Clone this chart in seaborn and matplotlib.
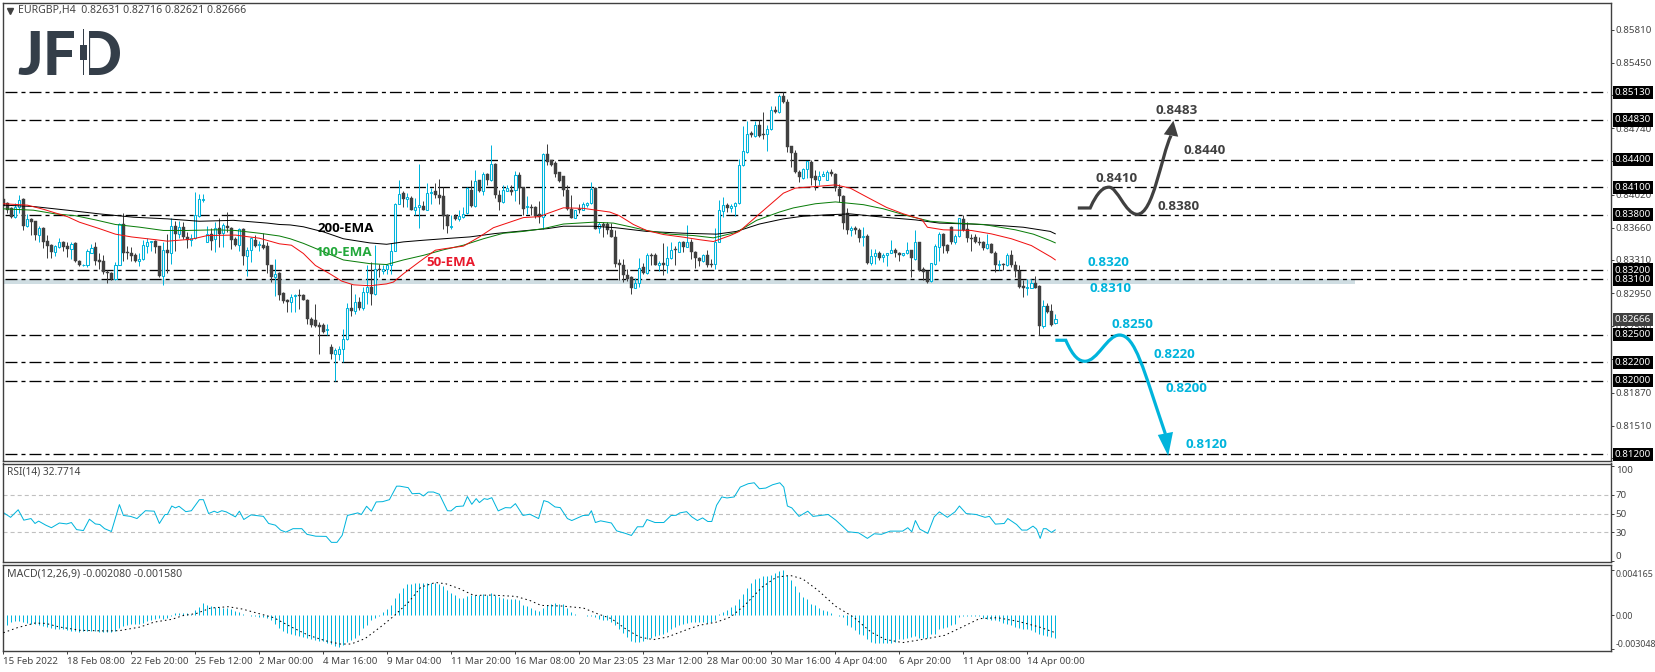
import numpy as np
import matplotlib
matplotlib.use('Agg')
import matplotlib.pyplot as plt
from matplotlib.path import Path
from matplotlib.patches import PathPatch, Rectangle
import seaborn as sns

# candles, in 1/10000 of a price (8397 = 0.8397)
opens = [
    8397,8393,8387,8378,8388,8397,8368,8375,8373,8358, 8366,8352,8347,8340,8345,8351,8346,8343,8349,8330,
    8325,8325,8339,8345,8331,8330,8318,8317,8310,8326, 8370,8340,8339,8336,8330,8332,8346,8351,8352,8346,
    8314,8342,8339,8368,8359,8367,8356,8353,8355,8379, 8396,8351,8359,8354,8366,8360,8368,8366,8354,8347,
    8365,8335,8342,8353,8347,8347,8346,8326,8312,8317, 8295,8287,8285,8292,8293,8293,8288,8267,8266,8260,
    8260,8255,8236,8229,8229,8234,8245,8279,8276,8285, 8279,8296,8302,8294,8321,8319,8321,8326,8341,8392,
    8404,8397,8398,8385,8388,8390,8385,8404,8406,8402, 8400,8380,8367,8379,8375,8378,8382,8407,8390,8418,
    8406,8424,8418,8435,8402,8394,8406,8407,8407,8423, 8410,8388,8389,8389,8381,8378,8446,8439,8436,8426,
    8422,8407,8386,8376,8386,8385,8391,8393,8409,8366, 8370,8370,8364,8356,8328,8326,8315,8313,8300,8306,
    8323,8317,8336,8336,8325,8328,8325,8333,8343,8340, 8350,8345,8350,8340,8333,8330,8336,8327,8327,8351,
    8384,8391,8387,8390,8393,8434,8448,8469,8466,8478, 8468,8468,8473,8494,8492,8509,8502,8455,8447,8427,
    8420,8430,8437,8422,8418,8422,8418,8426,8424,8408, 8400,8382,8364,8366,8364,8356,8357,8328,8335,8339,
    8334,8336,8339,8342,8339,8336,8339,8342,8332,8351, 8321,8319,8308,8327,8345,8359,8347,8367,8350,8357,
    8375,8365,8355,8356,8351,8350,8344,8348,8339,8326, 8327,8325,8336,8326,8319,8303,8301,8301,8306,8303,
    8259,8281,8276,8263]
highs = [
    8398,8394,8388,8393,8402,8398,8381,8377,8373,8368, 8367,8358,8348,8347,8355,8352,8350,8350,8350,8331,
    8327,8343,8348,8351,8338,8336,8320,8318,8329,8371, 8382,8346,8345,8338,8338,8353,8355,8352,8353,8346,
    8351,8359,8377,8373,8373,8372,8361,8359,8405,8403, 8403,8368,8366,8372,8376,8371,8383,8367,8356,8366,
    8366,8345,8356,8358,8352,8360,8350,8326,8332,8318, 8296,8289,8294,8294,8299,8294,8289,8269,8283,8264,
    8263,8261,8240,8235,8238,8256,8284,8305,8294,8291, 8302,8326,8329,8347,8327,8325,8327,8349,8393,8418,
    8406,8404,8400,8398,8435,8395,8414,8409,8415,8419, 8410,8381,8380,8381,8385,8388,8410,8418,8429,8418,
    8427,8425,8456,8436,8407,8412,8412,8412,8428,8427, 8410,8400,8392,8390,8395,8447,8457,8440,8438,8427,
    8422,8412,8401,8385,8392,8394,8394,8416,8410,8372, 8372,8372,8371,8364,8332,8332,8321,8314,8311,8333,
    8328,8338,8339,8338,8330,8349,8346,8350,8346,8352, 8352,8369,8354,8341,8334,8337,8342,8332,8366,8396,
    8399,8393,8392,8394,8441,8476,8482,8471,8482,8483, 8492,8477,8498,8498,8511,8513,8506,8455,8450,8429,
    8431,8438,8440,8429,8428,8428,8429,8430,8425,8413, 8402,8387,8368,8368,8366,8367,8359,8343,8343,8341,
    8339,8339,8353,8344,8340,8339,8350,8342,8364,8351, 8323,8319,8328,8348,8361,8360,8348,8368,8359,8377,
    8380,8372,8359,8359,8356,8352,8359,8349,8341,8331, 8328,8338,8342,8330,8325,8309,8310,8310,8314,8304,
    8287,8284,8283,8272]
lows = [
    8388,8382,8376,8376,8382,8364,8367,8358,8353,8351, 8344,8333,8333,8335,8344,8341,8334,8332,8329,8324,
    8324,8323,8339,8326,8321,8316,8306,8309,8309,8325, 8330,8332,8330,8329,8324,8331,8339,8341,8338,8313,
    8304,8317,8327,8341,8355,8354,8344,8346,8354,8378, 8394,8350,8342,8340,8345,8345,8361,8343,8346,8341,
    8325,8314,8329,8345,8341,8343,8317,8307,8292,8288, 8284,8275,8274,8274,8278,8287,8262,8258,8258,8229,
    8252,8249,8224,8200,8222,8220,8244,8270,8272,8277, 8277,8283,8282,8293,8313,8316,8316,8316,8341,8392,
    8389,8388,8385,8380,8366,8385,8385,8392,8398,8392, 8365,8360,8365,8374,8373,8377,8381,8389,8389,8405,
    8402,8412,8417,8398,8385,8393,8406,8401,8395,8392, 8380,8381,8380,8377,8371,8365,8434,8433,8421,8416,
    8400,8385,8376,8376,8382,8385,8389,8392,8365,8360, 8356,8359,8356,8323,8309,8307,8308,8294,8300,8302,
    8316,8316,8325,8325,8319,8315,8317,8332,8326,8340, 8340,8345,8332,8322,8324,8329,8323,8323,8321,8351,
    8378,8383,8383,8379,8392,8433,8447,8464,8464,8464, 8462,8449,8472,8491,8491,8501,8448,8432,8425,8416,
    8419,8420,8412,8407,8412,8422,8418,8422,8406,8394, 8365,8359,8357,8359,8351,8346,8327,8326,8327,8331,
    8329,8324,8338,8334,8330,8335,8337,8312,8331,8319, 8309,8306,8307,8326,8330,8338,8338,8348,8348,8356,
    8362,8351,8341,8349,8347,8342,8343,8338,8318,8320, 8320,8324,8323,8312,8301,8291,8293,8300,8300,8249,
    8257,8273,8259,8262]
closes = [
    8390,8385,8378,8389,8396,8368,8375,8372,8358,8366, 8350,8346,8340,8346,8351,8345,8343,8348,8330,8325,
    8325,8341,8344,8330,8329,8318,8317,8310,8326,8370, 8339,8338,8335,8330,8332,8347,8351,8352,8345,8314,
    8342,8339,8368,8359,8367,8356,8353,8355,8380,8397, 8397,8359,8352,8366,8359,8369,8366,8353,8347,8365,
    8335,8342,8355,8346,8348,8344,8326,8312,8316,8293, 8286,8285,8291,8293,8292,8287,8267,8260,8259,8258,
    8253,8256,8229,8233,8234,8245,8279,8276,8285,8279, 8296,8302,8294,8321,8320,8321,8326,8341,8392,8403,
    8397,8399,8385,8389,8391,8385,8404,8405,8401,8398, 8379,8368,8368,8375,8379,8381,8409,8390,8417,8406,
    8424,8418,8435,8401,8394,8407,8409,8405,8423,8409, 8386,8390,8387,8379,8378,8446,8437,8434,8424,8417,
    8407,8386,8376,8385,8385,8392,8393,8408,8365,8370, 8368,8364,8356,8327,8325,8315,8310,8300,8306,8322,
    8317,8336,8335,8325,8328,8325,8333,8342,8342,8350, 8345,8350,8340,8333,8330,8336,8326,8326,8351,8385,
    8391,8387,8390,8393,8434,8449,8468,8467,8478,8466, 8467,8473,8494,8492,8509,8502,8454,8447,8426,8421,
    8430,8438,8420,8418,8422,8424,8426,8424,8409,8400, 8371,8364,8366,8363,8355,8357,8328,8335,8339,8333,
    8336,8339,8342,8338,8336,8339,8342,8333,8351,8320, 8318,8307,8328,8346,8359,8346,8341,8350,8357,8376,
    8364,8355,8354,8350,8349,8344,8348,8338,8325,8327, 8325,8336,8326,8319,8302,8300,8302,8306,8301,8259,
    8281,8275,8260,8267]

# moving averages, read at a few bars
ema50_x = [0,6,10,13,16,19,24,28,32,38,41,47,51,58,64,69,72,75,78,81.6,84.6,87.5,91.6,95.8,97.5,100,104,108,110.6,115,119,122.5,126.6,130,134,136,140,145,148.3,151.6,154,157.5,160.8,165,170,174,177.5,181.7,184,189,195,198,203,208,211.7,216,220.8,225,229.6,231,235,242,247,252,257,262,263]
ema50_y = [8392,8390.5,8386,8382,8378,8372,8365,8359,8356,8353,8351.4,8353.5,8357.5,8358,8354.6,8348.5,8347,8338,8325,8316,8308,8304,8303,8305,8307,8316,8329,8341.6,8343.4,8346,8356,8366,8372,8377,8378,8381.4,8387.6,8387,8385,8383,8379,8369.5,8363,8358.6,8355.7,8353,8351,8357.5,8362,8381,8403.5,8409,8410.7,8412.5,8409,8399,8388,8381,8375,8366.5,8363.7,8363,8359.3,8354,8346.6,8334,8331]
ema100_x = [0,7.5,13,18,23,28,34,40,46,53,58,64,69,71.7,75,80,85,91.6,95.8,100,105,110,115,120,125,130,135,140,147.5,152.5,156.7,160.8,166.6,172.5,177.5,183.3,188.3,194,197.5,203,208,215,220,226,231.7,238,245,253,257.5,261.7,263]
ema100_y = [8386.5,8385,8381,8379,8374.5,8369.5,8366.6,8363,8363,8363.7,8363,8360,8357,8354,8349,8340,8331,8327,8326,8331,8336,8342,8347,8354,8360,8362,8365,8370,8372,8371,8367,8363,8359,8357.5,8355,8361,8374,8383,8387.5,8392,8394,8391,8386.5,8379,8373,8371,8369.5,8363.7,8359,8352,8349.5]
ema200_x = [0,7.5,16,24,32.5,41,49,57.5,66,69,71.7,75,80,85,91.6,95.8,100,105,110,116.6,123,130,136,140,147.5,153,160.8,170,178.3,183.3,189,195,200,206,211.7,220,228,234,242,249,255,261.7,263]
ema200_y = [8390.5,8389,8385,8381,8377.4,8375.6,8373,8374,8371,8369.5,8369,8367,8361.5,8354,8349.5,8348,8350.6,8352.4,8354,8356,8359.7,8362.6,8365,8367.6,8367.6,8366,8362,8360,8359,8362,8370,8375.6,8378.5,8380,8381,8377.4,8374.5,8371,8370,8368.4,8366.5,8362,8359.3]

# rsi(14)
rsi_x = [0,1.8,3.7,5.1,6.9,7.9,8.8,10.6,12,14,15.8,17,18.3,20,21.5,23,24.1,25.3,27,29,30,31.8,33.4,35.5,37.7,39,40.4,41,42.1,43,43.9,45.6,47,49,50,51.3,52.7,53.5,54.6,55.7,58,59,60.1,61.9,65,66.3,68,69.3,70.6,72.4,74.6,75.9,78.1,80.7,82,83.4,84.7,86,87.3,88.6,89.5,90.8,92,93.2,94.8,96.5,98.3,99.1,101.2,102.2,104,105,106.2,107.5,109,111,111.9,113.2,115,116,117.1,118.2,119,120.2,121,122.1,123.7,125.5,126.8,128,129.9,131.6,133.8,135.1,136.2,137.9,139.2,141,142.1,144.9,146.3,147,148,149.3,152,153.3,155.5,157,158.5,159.9,160.9,162.9,165.1,166.9,168.2,169.1,170.8,172.1,173.5,174.8,176.1,177.1,178.3,179.6,180.9,182.7,184.2,186.2,187.7,189,190.6,192.3,194.1,195.1,196,197.1,198.9,201.1,202.4,206.2,208.1,209.9,211.2,213.8,216,217.7,219.5,221.7,224.8,226.1,227.1,228,229.1,231.1,232.7,234,236,237.9,239,240.7,243.2,245.4,246.5,248,250.2,251.1,253.3,254.6,255.9,257.4,258.3,259.2,260,260.7,262,263]
rsi_y = [51,46,54,43,44.7,39.5,42,37.7,35,40,39,40.5,33,32,44,39,38.4,34,31,59.5,48,47,44.7,53,52.5,39.5,49,49,58,56,57.7,52,53,64.7,64.7,50,52.5,51,53,51.8,46.5,52.5,43.7,48.6,47,39.5,37.7,32.5,30.3,34,34,28,26,25.8,19.5,19.5,27,48,49.3,50.7,49,57.7,52.5,62.3,62.6,64.7,79,79,77.4,71,71.4,68.6,72.8,72.8,70.4,53,52.8,57.4,58,68,59.8,65.8,61.6,65.8,65,66.8,52.8,56.3,56,60.5,48,49.3,44.7,63.7,62.3,57,56.3,44.7,42.6,47.9,48.2,53,40.5,42.3,40,31.7,29,26.8,36,36,43.7,40.5,40.5,47.9,48.2,50.7,52,46.5,42.6,45.4,41.6,41.6,58.8,67.6,66.5,67.6,78,81.6,82.6,76.3,77,80.5,82.6,78,58,56,47,52.5,47,49,43,36,30.7,29.6,23.7,28.6,28,31.4,31.4,35,30.7,42.6,33.5,29,46.5,51.8,46,51.8,58,50,49,46,47,38.8,39.5,44.7,38.4,32.5,32.5,36.7,33.5,23.7,34,34,30,32.8]

# macd histogram per bar and signal line, in 1/10000
macd_hist = [
    -9.7,-9.1,-6.1,-4.8,-5.5,-6.1,-7.0,-7.6,-7.6,-8.5, -9.7,-10.6,-11.5,-12.1,-12.7,-12.7,-13.3,-13.9,-14.5,-15.2,
    -14.5,-14.2,-14.2,-14.5,-15.2,-15.2,-15.2,-15.2,-14.5,-11.5, -10,-8.5,-7.9,-7.6,-7.6,-6.7,-5.5,-4.5,-3.6,-2.7,
    -3.6,-2.7,-0.9,2.1,2.4,2.4,1.8,1.5,4.5,7.6, 10.9,9.1,8.5,7.3,7.6,6.7,6.7,6.1,3.9,3.0,
    0.9,0,-0.3,-0.9,-1.5,-1.5,-2.4,-4.5,-7.6,-11.5, -14.2,-16.1,-17.3,-17.6,-18.8,-19.7,-20.6,-21.8,-22.4,-23.3,
    -23.6,-24.8,-26.4,-27.9,-28.8,-27.3,-24.2,-22.7,-20.3,-17.6, -11.5,-8.5,-4.5,-2.4,-0.9,3.0,5.5,9.1,15.8,20.3,
    24.8,28.2,28.8,29.4,29.7,29.7,29.4,29.7,29.4,28.2, 26.4,22.7,20.3,18.2,16.1,15.8,17.3,18.8,18.2,18.8,
    19.7,18.8,20.6,18.2,16.7,15.8,15.2,14.5,15.2,13.6, 9.7,8.5,6.7,4.5,3.6,6.7,9.1,10.6,11.2,10.6,
    10.6,6.7,3.0,0.9,0,0,-0.3,-0.3,-1.5,-3, -3.9,-4.5,-6.1,-9.1,-12.7,-15.8,-19.7,-23.3,-24.2,-24.2,
    -23.6,-21.8,-20.3,-18.8,-18.2,-16.7,-15.2,-12.7,-10.6,-8.5, -7.6,-6.7,-6.1,-6.1,-6.1,-6.1,-6.7,-6.1,-4.5,1.5,
    3,4.5,7.6,9.7,15.2,19.7,24.8,29.4,33.3,34.5, 35.5,36,37,38.8,40,41.6,37,31.8,26.7,21.2,
    16.7,15.2,10.6,9.1,6.7,4.5,3.6,2.1,0,-0.3, -1.5,-9.1,-10.6,-13.6,-16.7,-17.6,-21.8,-24.2,-24.8,-24.8,
    -25.1,-25.5,-24.8,-24.2,-21.8,-21.2,-20.3,-19.7,-19.1,-20.6, -20.3,-20.3,-17.3,-16.7,-12.7,-11.5,-10.6,-9.1,-7.6,-1.5,
    -0.9,-0.3,-0.3,-0.3,-0.9,-2.4,-3,-3.9,-3.9,-5.5, -6.7,-7.6,-9.1,-10.6,-11.5,-12.1,-12.7,-13.6,-15.2,-17.3,
    -18.2,-19.1,-19.7,-20.8]
signal_x = [0,3.5,7.9,10.6,14,19.3,25.5,29,34.2,37.7,42.1,44.8,48.3,51.8,56.2,59.7,64,67.6,72,76.3,80.7,84.2,86.9,90.4,94.8,97.8,101.3,104.4,108,110.6,114.1,117.6,122,128.1,131.6,134.4,139.7,145,148.5,152,155.5,159,162.5,166,170.4,173.9,178.3,181.8,185.3,189.7,193.2,196.7,199.8,203.7,208.1,212.5,216.9,220.4,224.8,230,235.3,239.7,244,248.5,253.7,259,263]
signal_y = [-15.8,-11.2,-7,-7.3,-10.6,-13.6,-14.2,-13.9,-10.6,-6.1,-3.6,-0.3,1.8,6.7,7.9,5.8,1.5,-2.1,-10.6,-18.2,-23.3,-26.1,-26.1,-21.2,-9.1,0,12.1,25.8,30,28.8,24.2,18.2,18.5,17.3,13.6,9.1,8.5,6.7,1.5,-3,-12.1,-19.7,-22.1,-19.7,-13.6,-9.1,-6.1,-1.5,9.1,25.8,34.8,36.4,33.3,22.7,8.2,-1.5,-15.2,-21.8,-24.8,-21.8,-18.2,-10.6,-3,-2.1,-5.5,-10.6,-15.8]

# levels and labels
levels = [0.8513, 0.8483, 0.8440, 0.8410, 0.8380, 0.8320, 0.8310, 0.8250, 0.8220, 0.8200, 0.8120]
price_ticks = [0.8581, 0.8545, 0.8510, 0.8474, 0.8438, 0.8402, 0.8366, 0.8331, 0.8295, 0.8259, 0.8223, 0.8187, 0.8151, 0.8116]
last_price = 0.82666
date_labels = ['15 Feb 2022', '18 Feb 08:00', '22 Feb 20:00', '25 Feb 12:00', '2 Mar 00:00', '4 Mar 16:00',
               '9 Mar 04:00', '11 Mar 20:00', '16 Mar 08:00', '20 Mar 23:05', '23 Mar 12:00', '28 Mar 00:00',
               '30 Mar 16:00', '4 Apr 04:00', '6 Apr 20:00', '11 Apr 08:00', '14 Apr 00:00']

up_path_x = [268.6, 271.7, 273.5, 275, 276.4, 278.5, 280.5, 283.4, 287.5, 289.5, 291.9]
up_path_y = [0.83874, 0.83874, 0.8405, 0.8410, 0.8410, 0.8410, 0.8381, 0.83805, 0.8380, 0.8445, 0.8466]
up_head_x = [292.5, 290.1, 293.7]
up_head_y = [0.84822, 0.84674, 0.84648]
down_path_x = [263, 265.6, 267.5, 269, 270.4, 273.5, 276, 279, 283, 285, 290.5]
down_path_y = [0.82438, 0.82438, 0.8225, 0.8221, 0.8221, 0.8221, 0.82495, 0.82495, 0.82495, 0.8212, 0.8142]
down_head_x = [291.2, 288.6, 292.4]
down_head_y = [0.81182, 0.8141, 0.81443]

W, H = 1655, 672
CYAN = '#00B4DC'
DARK = '#404040'
GREY_TXT = '#444444'

sns.set_theme(style='white')
plt.rcParams['font.family'] = ['Noto Sans', 'DejaVu Sans']
plt.rcParams['lines.scale_dashes'] = False
plt.rcParams['axes.edgecolor'] = DARK
plt.rcParams['axes.linewidth'] = 1.0


def px_axes(left, top, right, bottom):
    return fig.add_axes([left / W, 1 - bottom / H, (right - left) / W, (bottom - top) / H])


fig = plt.figure(figsize=(W / 100, H / 100), dpi=100)
ax = px_axes(2.5, 2.5, 1611, 461)
ax_rsi = px_axes(2.5, 463.5, 1611, 562)
ax_macd = px_axes(2.5, 565, 1611, 651)

bars = np.arange(len(closes))
o = np.array(opens) / 10000
h = np.array(highs) / 10000
l = np.array(lows) / 10000
c = np.array(closes) / 10000
x_lim = ((2.5 - 3.4) / 4, (1611 - 3.4) / 4)

# shaded zone and horizontal levels
ax.fill_between([x_lim[0], 338], 0.83048, 0.83106, color='#CFDDE2', lw=0, zorder=1)
ax.hlines(levels, x_lim[0] + 0.5, x_lim[1] - 1, color='black', lw=0.95,
          linestyle=(0, (8.6, 2.9, 2.9, 2.9)), zorder=1.5)

# candles
is_up = c >= o
wick_cols = [CYAN if u else DARK for u in is_up]
ax.vlines(bars, l, h, colors=wick_cols, lw=0.72, zorder=2)
body_bottom = np.minimum(o, c)
body_height = np.abs(c - o)
ax.bar(bars[~is_up], body_height[~is_up], bottom=body_bottom[~is_up], width=0.72,
       color=DARK, edgecolor=DARK, linewidth=0.3, zorder=3)
ax.bar(bars[is_up], body_height[is_up], bottom=body_bottom[is_up], width=0.55,
       color='white', edgecolor=CYAN, linewidth=0.75, zorder=3)

thin = dict(lw=0.72, estimator=None)
sns.lineplot(x=ema200_x, y=np.array(ema200_y) / 10000, color='black', ax=ax, zorder=4, **thin)
sns.lineplot(x=ema100_x, y=np.array(ema100_y) / 10000, color='#0A7D0A', ax=ax, zorder=4, **thin)
sns.lineplot(x=ema50_x, y=np.array(ema50_y) / 10000, color='#F01010', ax=ax, zorder=4, **thin)

# scenario arrows
curve_codes = [Path.MOVETO, Path.LINETO] + [Path.CURVE4] * 9
ax.add_patch(PathPatch(Path(np.column_stack([up_path_x, up_path_y]), curve_codes), fc='none', ec=DARK, lw=2.3, zorder=5))
ax.fill(up_head_x, up_head_y, color=DARK, lw=0, zorder=5)
ax.add_patch(PathPatch(Path(np.column_stack([down_path_x, down_path_y]), curve_codes), fc='none', ec=CYAN, lw=2.3, zorder=5))
ax.fill(down_head_x, down_head_y, color=CYAN, lw=0, zorder=5)

ax.set_xlim(x_lim)
ax.set_ylim(0.8120 - 6.7 / 9211, 0.8513 + 89.8 / 9211)
ax.set_yticks(price_ticks)
ax.set_yticklabels([f'{p:.5f}' for p in price_ticks])
ax.set_xticks([])

for p in levels:
    ax.text(1.0024, p, f'{p:.5f}', transform=ax.get_yaxis_transform(), color='white', fontsize=7,
            va='center', ha='left', zorder=10, clip_on=False,
            bbox=dict(fc='black', ec='none', boxstyle='square,pad=0.22'))
ax.text(1.0024, last_price, f'{last_price:.5f}', transform=ax.get_yaxis_transform(), color='white', fontsize=7,
        va='center', ha='left', zorder=10, clip_on=False,
        bbox=dict(fc=DARK, ec='none', boxstyle='square,pad=0.22'))

# rsi panel
for lev in [70, 50, 30]:
    ax_rsi.axhline(lev, color='#C0C0C0', lw=0.8, linestyle=(0, (2.9, 2.2)), zorder=1)
sns.lineplot(x=rsi_x, y=rsi_y, color=CYAN, ax=ax_rsi, **thin)
ax_rsi.set_xlim(x_lim)
ax_rsi.set_ylim(-1.3, 103)
ax_rsi.set_yticks([0, 30, 50, 70, 100])
ax_rsi.set_xticks([])

# macd panel
ax_macd.vlines(bars, 0, np.array(macd_hist) / 10000, color=CYAN, lw=0.72, zorder=2)
sns.lineplot(x=signal_x, y=np.array(signal_y) / 10000, color='black', ax=ax_macd, zorder=3,
             linestyle=(0, (1.1, 2.2)), **thin)
ax_macd.set_xlim(x_lim)
ax_macd.set_ylim(-35.7 / 11000, 50.5 / 11000)
ax_macd.set_yticks([-0.003048, 0, 0.004165])
ax_macd.set_yticklabels(['-0.003048', '0.00', '0.004165'])
ax_macd.set_xticks(np.arange(len(date_labels)) * 16)
ax_macd.set_xticklabels(date_labels, ha='left', fontsize=7, color=GREY_TXT)
ax_macd.tick_params(axis='x', bottom=True, length=2.5, width=0.7, pad=1.5, color=DARK)

for a in (ax, ax_rsi, ax_macd):
    a.set_xlabel('')
    a.set_ylabel('')
    a.grid(False)
    a.yaxis.tick_right()
    a.tick_params(axis='y', right=True, left=False, length=2, width=0.7, pad=1.5,
                  labelsize=7, labelcolor=GREY_TXT, color=DARK)
    for s in a.spines.values():
        s.set_color(DARK)

rsi_lbls = ax_rsi.get_yticklabels()
rsi_lbls[0].set_va('bottom')
rsi_lbls[-1].set_va('top')
macd_lbls = ax_macd.get_yticklabels()
macd_lbls[0].set_va('bottom')
macd_lbls[-1].set_va('top')
for t in macd_lbls:
    t.set_fontsize(6.4)

# overlay in pixels for titles, notes and the logo
ov = fig.add_axes([0, 0, 1, 1], zorder=20)
ov.set_xlim(0, W)
ov.set_ylim(H, 0)
ov.axis('off')
ov.patch.set_alpha(0)

ov.plot([9.5], [10.5], marker='v', ms=4.5, color=DARK, lw=0)
ov.text(18, 10.7, 'EURGBP,H4  0.82631 0.82716 0.82621 0.82666', fontsize=7.6, color=GREY_TXT, va='center')
ov.text(7, 472.5, 'RSI(14) 32.7714', fontsize=7.3, color=GREY_TXT, va='center')
ov.text(7, 573.5, 'MACD(12,26,9) -0.002080 -0.001580', fontsize=7.6, color=GREY_TXT, va='center')

notes = [('0.8483', 1156, 111, DARK), ('0.8440', 1184, 151, DARK), ('0.8410', 1096, 179, DARK), ('0.8380', 1158, 206, DARK),
         ('0.8320', 1088, 262, CYAN), ('0.8310', 1089, 288, CYAN), ('0.8250', 1112, 325, CYAN), ('0.8220', 1153, 355, CYAN),
         ('0.8200', 1166, 389, CYAN), ('0.8120', 1186, 445, CYAN),
         ('200-EMA', 317.5, 228, 'black'), ('100-EMA', 315, 253, '#22A83A'), ('50-EMA', 426, 263, '#E8192C')]
for txt, x, y, col in notes:
    ov.text(x, y, txt, color=col, fontsize=9.6, fontweight='bold', va='center', family='Open Sans')

LOGO = '#343E49'
ov.text(17, 75, 'JFD', color=LOGO, fontsize=43, fontweight='black', va='baseline', family='Lato')
ov.add_patch(Rectangle((74, 27), 14.5, 50, fc='white', ec='none', zorder=5))
ov.add_patch(Rectangle((83, 29), 1.2, 46, fc=LOGO, ec='none', zorder=6))
ov.add_patch(Rectangle((80, 45), 7, 15, fc=LOGO, ec='none', zorder=6))

fig.savefig('out.png', dpi=100)
